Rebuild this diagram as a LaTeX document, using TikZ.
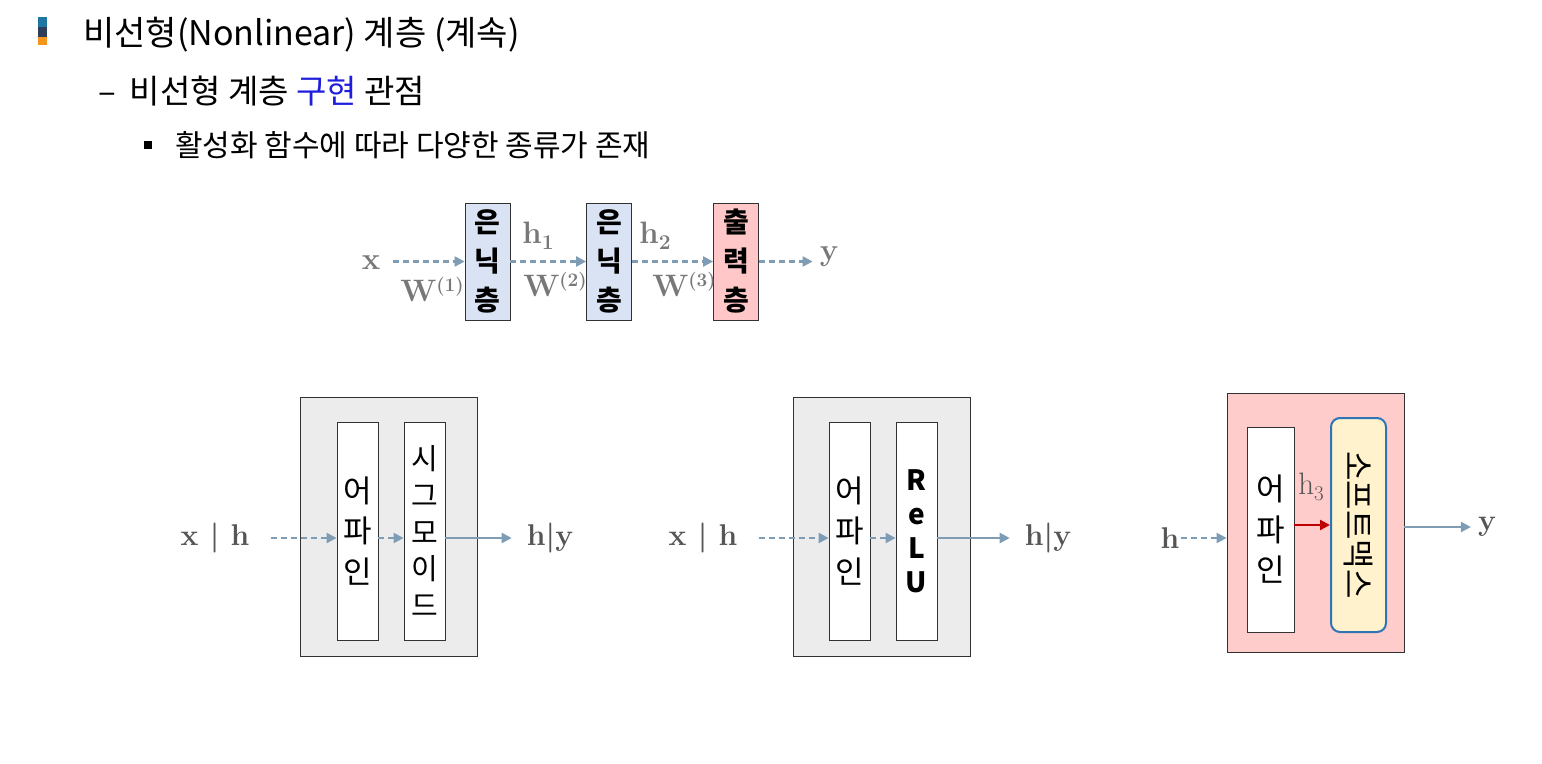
\documentclass[tikz,border=0pt]{standalone}
\usepackage[no-math]{fontspec}
\newfontfamily\kr{Noto Sans CJK KR}
\usetikzlibrary{arrows.meta}
\definecolor{arrc}{RGB}{127,156,181}
\definecolor{labc}{RGB}{85,85,85}
\definecolor{toplab}{RGB}{120,120,120}
\definecolor{lblue}{RGB}{218,227,243}
\definecolor{lpink}{RGB}{255,199,199}
\definecolor{ppink}{RGB}{255,204,204}
\definecolor{pgray}{RGB}{236,236,236}
\definecolor{smfill}{RGB}{255,242,204}
\definecolor{smborder}{RGB}{46,117,182}
\definecolor{redarr}{RGB}{192,0,0}
\definecolor{blutext}{RGB}{30,30,220}
\definecolor{bteal}{RGB}{31,118,160}
\definecolor{bnavy}{RGB}{45,62,88}
\definecolor{borange}{RGB}{247,148,29}
\definecolor{boxline}{RGB}{50,50,50}
\newcommand{\supp}[1]{\raisebox{10pt}{\fontsize{19}{19}\selectfont #1}}
\newcommand{\subb}[1]{\raisebox{-6pt}{\fontsize{21}{21}\selectfont #1}}
\tikzset{
  darr/.style={draw=arrc, line width=2.2pt, dash pattern=on 6pt off 4pt, -{Triangle[length=10pt,width=10pt]}},
  sarr/.style={draw=arrc, line width=2.2pt, -{Triangle[length=10pt,width=10pt]}},
  rarr/.style={draw=redarr, line width=2.2pt, -{Triangle[length=10pt,width=10pt]}},
  topbox/.style={draw=boxline, line width=0.8pt, minimum width=45pt, minimum height=117pt, inner sep=0pt, align=center, font=\kr\fontsize{28}{39}\selectfont\bfseries},
  panel/.style={draw=boxline, line width=0.8pt, minimum width=177pt, minimum height=259pt, inner sep=0pt},
  inbox/.style={draw=boxline, line width=0.8pt, fill=white, minimum width=41pt, minimum height=218pt, inner sep=0pt, align=center, font=\kr\fontsize{31}{40.5}\selectfont},
  toplabel/.style={color=toplab, font=\fontsize{31}{34}\selectfont\bfseries, inner sep=1pt},
  mlabel/.style={color=labc, font=\fontsize{30}{34}\selectfont\bfseries, inner sep=1pt},
}
\begin{document}
\begin{tikzpicture}[x=1pt,y=-1pt]
\useasboundingbox (0,0) rectangle (1542,763);
% header bullet
\fill[bteal] (38,17) rectangle (47,27);
\fill[bnavy] (38,27) rectangle (47,37);
\fill[borange] (38,37) rectangle (47,45);
\node[anchor=west, inner sep=0pt, font=\kr\fontsize{34}{38}\selectfont] (title) at (83,35) {비선형(Nonlinear) 계층 (계속)};
\node[anchor=west, inner sep=0pt, font=\kr\fontsize{33}{36}\selectfont] (sub) at (98,91) {–\hspace{14pt}비선형 계층 \textcolor{blutext}{구현} 관점};
\fill (144,141) rectangle (152,149);
\node[anchor=west, inner sep=0pt, font=\kr\fontsize{30}{34}\selectfont] (subsub) at (175,145) {활성화 함수에 따라 다양한 종류가 존재};

% top chain
\node[topbox, fill=lblue] (b1) at (487.5,261.5) {은\\닉\\층};
\node[topbox, fill=lblue] (b2) at (609,261.5) {은\\닉\\층};
\node[topbox, fill=lpink] (b3) at (736,261.5) {출\\력\\층};
\node[toplabel] (xin) at (371,263) {x};
\node[toplabel] (yout) at (829,257) {y};
\node[toplabel] (h1) at (538,236) {h\subb{1}};
\node[toplabel] (h2) at (655,236) {h\subb{2}};
\node[toplabel] (w1) at (432,290) {W\supp{(1)}};
\node[toplabel] (w2) at (555,285) {W\supp{(2)}};
\node[toplabel] (w3) at (684,285) {W\supp{(3)}};
\draw[darr, shorten <=12pt] (xin.east |- b1.west) -- (b1.west);
\draw[darr] (b1.east) -- (b2.west);
\draw[darr] (b2.east) -- (b3.west);
\draw[darr, shorten >=6pt] (b3.east) -- (yout.west |- b3.east);

% panel 1
\node[panel, fill=pgray] (p1) at (388.5,526.5) {};
\node[inbox] (a1) at (357.5,531) {어\\파\\인};
\node[inbox, font=\kr\fontsize{29}{36.5}\selectfont] (s1) at (424.5,531) {시\\그\\모\\이\\드};
\node[mlabel] (l1) at (215,538) {x | h};
\node[mlabel] (r1) at (550,538) {h|y};
\draw[darr, shorten <=20pt] (l1.east) -- (a1.west |- l1.east);
\draw[darr] (a1.east |- l1.east) -- (s1.west |- l1.east);
\draw[sarr, shorten >=14pt] (s1.east |- r1.west) -- (r1.west);

% panel 2
\node[panel, fill=pgray] (p2) at (881.5,526.5) {};
\node[inbox] (a2) at (849.5,531) {어\\파\\인};
\node[inbox, font=\kr\fontsize{28}{34}\selectfont\bfseries] (s2) at (916.5,531) {R\\e\\L\\U};
\node[mlabel] (l2) at (703,538) {x | h};
\node[mlabel] (r2) at (1048,538) {h|y};
\draw[darr, shorten <=20pt] (l2.east) -- (a2.west |- l2.east);
\draw[darr] (a2.east |- l2.east) -- (s2.west |- l2.east);
\draw[sarr, shorten >=14pt] (s2.east |- r2.west) -- (r2.west);

% panel 3
\node[panel, fill=ppink] (p3) at (1315.5,522.5) {};
\node[inbox, minimum width=47pt, minimum height=205pt] (a3) at (1270.5,529.5) {어\\파\\인};
\node[draw=smborder, line width=2pt, fill=smfill, rounded corners=9pt, minimum width=55pt, minimum height=214pt, inner sep=0pt] (sm) at (1358.5,525) {};
\node[rotate=-90, inner sep=0pt, font=\kr\fontsize{32}{34}\selectfont] (smt) at (sm.center) {소프트맥스};
\node[mlabel] (l3) at (1170,538) {h};
\node[mlabel] (r3) at (1487,527) {y};
\node[color=labc, font=\fontsize{31}{34}\selectfont, inner sep=1pt] (h3) at (1311,487) {h\subb{3}};
\draw[darr] (l3.east) -- (p3.west |- l3.east);
\draw[rarr] (a3.east |- sm.west) -- (sm.west);
\draw[sarr, shorten >=6pt] (p3.east |- r3.west) -- (r3.west);
\end{tikzpicture}
\end{document}
